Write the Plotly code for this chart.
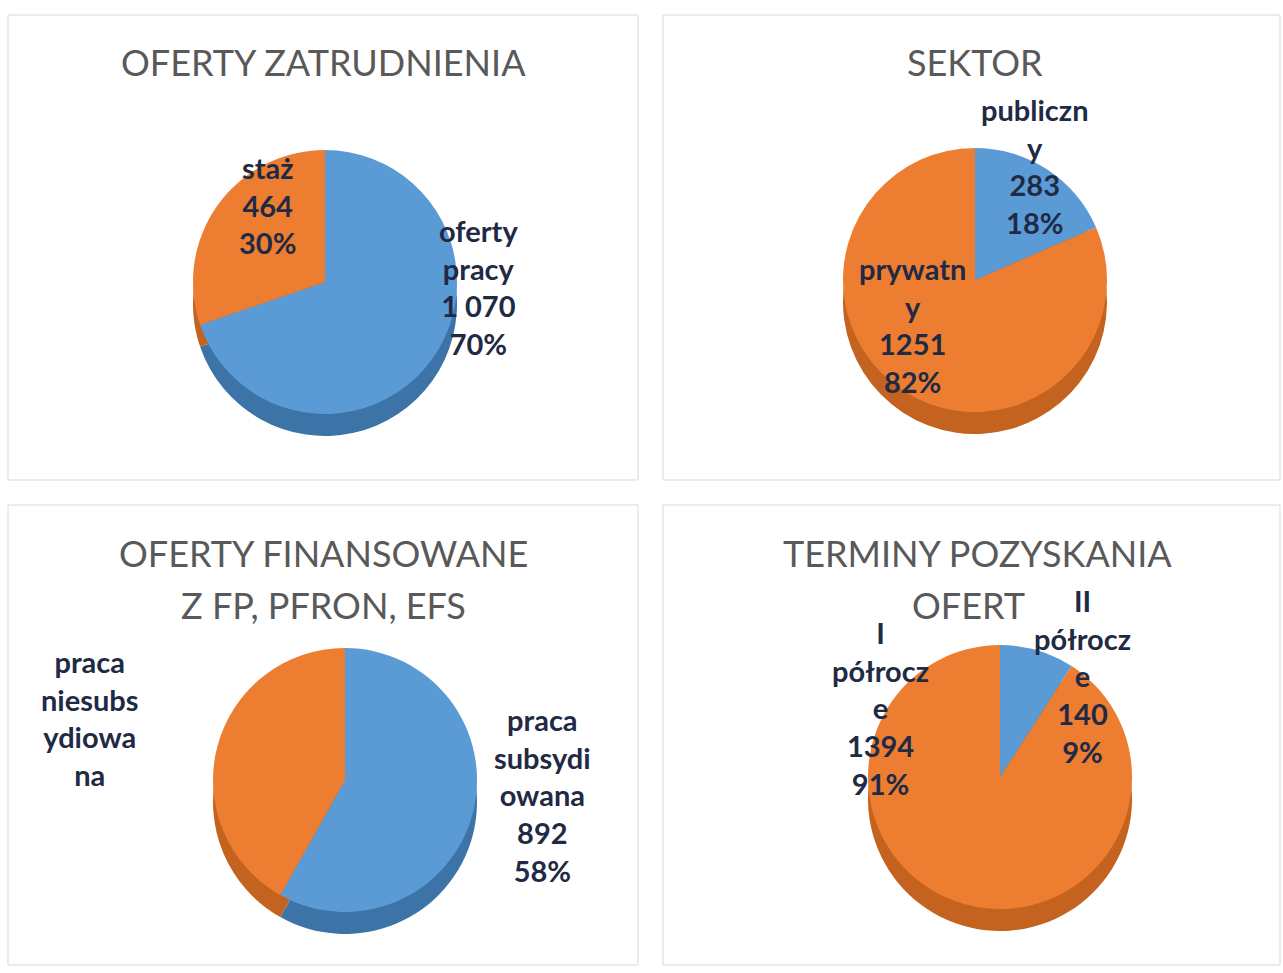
import plotly.graph_objects as go

W, H = 1283, 973

# ---------------- data ----------------
titles = [["OFERTY ZATRUDNIENIA"], ["SEKTOR"],
          ["OFERTY FINANSOWANE", "Z FP, PFRON, EFS"],
          ["TERMINY POZYSKANIA", "OFERT"]]

c1_labels = ["oferty pracy", "staż"]
c1_values = [1070, 464]
c2_labels = ["publiczny", "prywatny"]
c2_values = [283, 1251]
c3_labels = ["praca subsydiowana", "praca niesubsydiowana"]
c3_values = [892, 642]
c4_labels = ["II półrocze", "I półrocze"]
c4_values = [140, 1394]

# label text wrapped as in the original
c1_text = ["oferty<br>pracy", "staż"]
c2_text = ["publiczn<br>y", "prywatn<br>y"]
c3_text = ["praca<br>subsydi<br>owana", "praca<br>niesubs<br>ydiowa<br>na"]
c4_text = ["II<br>półrocz<br>e", "I<br>półrocz<br>e"]
show_numbers = [[True, True], [True, True], [True, False], [True, True]]
thousands_sep = [" ", "", "", ""]

charts = [
    (c1_labels, c1_values, c1_text),
    (c2_labels, c2_values, c2_text),
    (c3_labels, c3_values, c3_text),
    (c4_labels, c4_values, c4_text),
]

# ---------------- layout / style ----------------
BLUE, ORANGE = "#5B9BD5", "#ED7D31"
BLUE_D, ORANGE_D = "#3C74A8", "#C4621F"
slice_colors = [[BLUE, ORANGE]] * 4
depth_colors = [[BLUE_D, ORANGE_D]] * 4

pie_centers = [(325, 282), (975, 280), (345, 780), (1000, 777)]
R = 132
DEPTH = 22
label_pos = [[(478, 287), (267, 205)],
             [(1035, 166), (912, 325)],
             [(542, 795), (90, 718)],
             [(1082, 676), (880, 708)]]
title_pos = [[(323, 62)], [(975, 62)],
             [(323, 553), (323, 605)],
             [(977, 553), (968, 605)]]
panels = [(8, 15, 638, 480), (663, 15, 1280, 480),
          (8, 505, 638, 965), (663, 505, 1280, 965)]


def px_dom(cx, cy, r):
    return dict(x=[(cx - r) / W, (cx + r) / W],
                y=[1 - (cy + r) / H, 1 - (cy - r) / H])


def fmt(v, sep):
    return f"{v:,}".replace(",", sep)


fig = go.Figure()
annotations = []
shapes = []

for i, (labels, values, texts) in enumerate(charts):
    cx, cy = pie_centers[i]
    # side (thickness) of the pie
    fig.add_trace(go.Pie(
        labels=labels, values=values, sort=False, direction="clockwise",
        rotation=0, textinfo="none", hoverinfo="skip", showlegend=False,
        marker=dict(colors=depth_colors[i], line=dict(width=0)),
        domain=px_dom(cx, cy + DEPTH, R)))
    # top face
    fig.add_trace(go.Pie(
        labels=labels, values=values, sort=False, direction="clockwise",
        rotation=0, textinfo="none", showlegend=False,
        marker=dict(colors=slice_colors[i], line=dict(width=0)),
        domain=px_dom(cx, cy, R)))
    total = sum(values)
    for j, (t, v) in enumerate(zip(texts, values)):
        txt = t
        if show_numbers[i][j]:
            txt += f"<br>{fmt(v, thousands_sep[i])}<br>{round(100 * v / total)}%"
        lx, ly = label_pos[i][j]
        annotations.append(dict(
            x=lx / W, y=1 - ly / H, xref="paper", yref="paper",
            text=txt, showarrow=False, xanchor="center", yanchor="middle",
            font=dict(family="Lato", size=29, color="#1F2A44", weight="bold")))
    for line, (tx, ty) in zip(titles[i], title_pos[i]):
        annotations.append(dict(
            x=tx / W, y=1 - ty / H, xref="paper", yref="paper",
            text=line, showarrow=False, xanchor="center", yanchor="middle",
            font=dict(family="Lato", size=36, color="#595959")))
    x0, y0, x1, y1 = panels[i]
    shapes.append(dict(type="rect", xref="paper", yref="paper",
                       x0=x0 / W, x1=x1 / W, y0=1 - y1 / H, y1=1 - y0 / H,
                       line=dict(color="#D9D9D9", width=1), layer="below"))

fig.update_layout(
    width=W, height=H, margin=dict(l=0, r=0, t=0, b=0),
    paper_bgcolor="white", plot_bgcolor="white",
    annotations=annotations, shapes=shapes, showlegend=False)

fig.write_html("out.html", config={"displayModeBar": False},
               post_script="document.body.style.margin='0';document.body.style.overflow='hidden';")
